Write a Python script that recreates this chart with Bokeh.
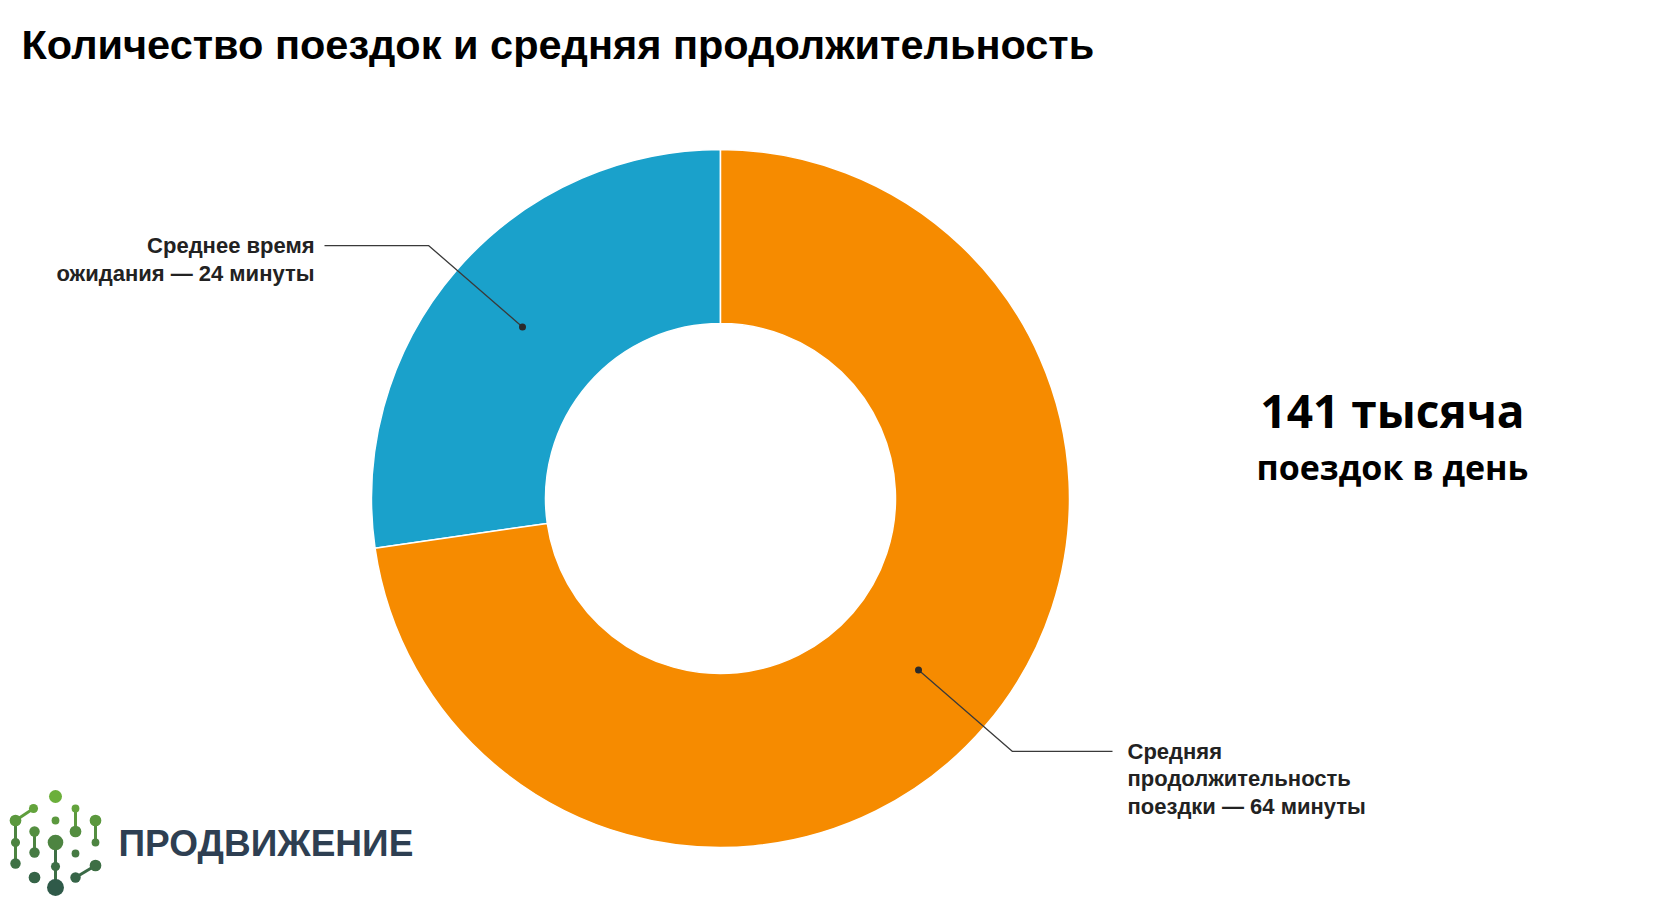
import numpy as np
from bokeh.plotting import figure
from bokeh.models import Range1d, Label
from bokeh.core.properties import value
from bokeh.embed import file_html
from bokeh.resources import INLINE

# ---------------- data ----------------
title = "Количество поездок и средняя продолжительность"
categories = ["Среднее время ожидания", "Средняя продолжительность поездки"]
minutes = [24, 64]
colors = ["#1AA1CB", "#F68B00"]
label_lines = [["Среднее время", "ожидания — 24 минуты"],
               ["Средняя", "продолжительность", "поездки — 64 минуты"]]
trips_value = "141 тысяча"
trips_caption = "поездок в день"
brand = "ПРОДВИЖЕНИЕ"

# ---------------- layout ----------------
W, H = 1666, 917
def Y(y):
    return H - y

p = figure(width=W, height=H, x_range=Range1d(0, W), y_range=Range1d(0, H),
           output_backend="svg", toolbar_location=None, min_border=0,
           x_axis_location=None, y_axis_location=None)
p.grid.visible = False
p.outline_line_color = None
p.background_fill_color = "white"
p.border_fill_color = "white"

cx, cy = 720, Y(498)
r_out, r_in = 349, 175

vals = np.array(minutes, dtype=float)
frac = vals / vals.sum()
start = np.pi / 2 + 2 * np.pi * np.concatenate([[0], np.cumsum(frac)[:-1]])
end = start + 2 * np.pi * frac

p.annular_wedge(x=cx, y=cy, inner_radius=r_in, outer_radius=r_out,
                start_angle=start, end_angle=end, fill_color=colors,
                line_color="white", line_width=1.5)

# leader lines + labels
mid = (start + end) / 2
r_dot = (r_in + r_out) / 2
r_elb = 386
hx_end = [324, 1112]
text_x = [314, 1127]
for i in range(len(minutes)):
    dx, dy = cx + r_dot * np.cos(mid[i]), cy + r_dot * np.sin(mid[i])
    ex, ey = cx + r_elb * np.cos(mid[i]), cy + r_elb * np.sin(mid[i])
    p.line([dx, ex, hx_end[i]], [dy, ey, ey], line_color="#3a3a3a", line_width=1.3)
    p.scatter([dx], [dy], size=7, fill_color="#2b2b2b", line_color=None)
    spacing = 27.5
    align = "right" if i == 0 else "left"
    for k, t in enumerate(label_lines[i]):
        p.add_layout(Label(x=text_x[i], y=ey - k * spacing, text=t,
                           text_align=align, text_baseline="middle",
                           text_font="Liberation Sans", text_font_style="bold",
                           text_font_size="22px", text_color="#222222"))

# title
p.add_layout(Label(x=21, y=Y(44), text=title, text_align="left", text_baseline="middle",
                   text_font="Liberation Sans", text_font_style="bold",
                   text_font_size="41.5px", text_color="#000000"))

# right block
p.add_layout(Label(x=1392, y=Y(409), text=trips_value, text_align="center", text_baseline="middle",
                   text_font="Open Sans", text_font_style="bold", text_font_size="46px",
                   text_color="#000000"))
p.add_layout(Label(x=1392, y=Y(466), text=trips_caption, text_align="center", text_baseline="middle",
                   text_font="Open Sans", text_font_style="bold", text_font_size="34px",
                   text_color="#000000"))

# logo (decoration)
logo_lines = [
    [(15, 820), (33, 808)], [(15, 820), (15, 863)], [(34, 831), (34, 852)],
    [(55, 842), (55, 887)], [(75, 808), (75, 831)], [(95, 820), (95, 842)],
    [(75, 877), (95, 865)],
]
logo_dots = [
    (55, 796, 5), (55, 820, 3), (15, 820, 4.5), (33, 808, 3.5), (15, 842, 3.5),
    (15, 863, 4), (34, 831, 4), (34, 852, 4), (55, 842, 6), (55, 866, 3.5),
    (55, 887, 6.5), (75, 808, 3), (75, 831, 4.5), (75, 853, 3), (95, 820, 4.5),
    (95, 842, 3), (34, 877, 4.5), (75, 877, 4), (95, 865, 4.5),
]
def green(y):
    t = min(max((y - 795) / 95, 0), 1)
    c0 = np.array([108, 176, 58]); c1 = np.array([46, 88, 74])
    c = (c0 + (c1 - c0) * t).astype(int)
    return "#%02x%02x%02x" % tuple(c)
for (a, b) in logo_lines:
    p.line([a[0], b[0]], [Y(a[1]), Y(b[1])], line_color=green((a[1] + b[1]) / 2), line_width=3)
for (x, y, r) in logo_dots:
    p.circle(x=x, y=Y(y), radius=r * 1.3, fill_color=green(y), line_color=None)

p.add_layout(Label(x=118, y=Y(843), text=brand, text_align="left", text_baseline="middle",
                   text_font="Liberation Sans", text_font_style="bold", text_font_size="37px",
                   text_color="#2E3F52"))

open("out.html", "w").write(file_html(p, INLINE))
